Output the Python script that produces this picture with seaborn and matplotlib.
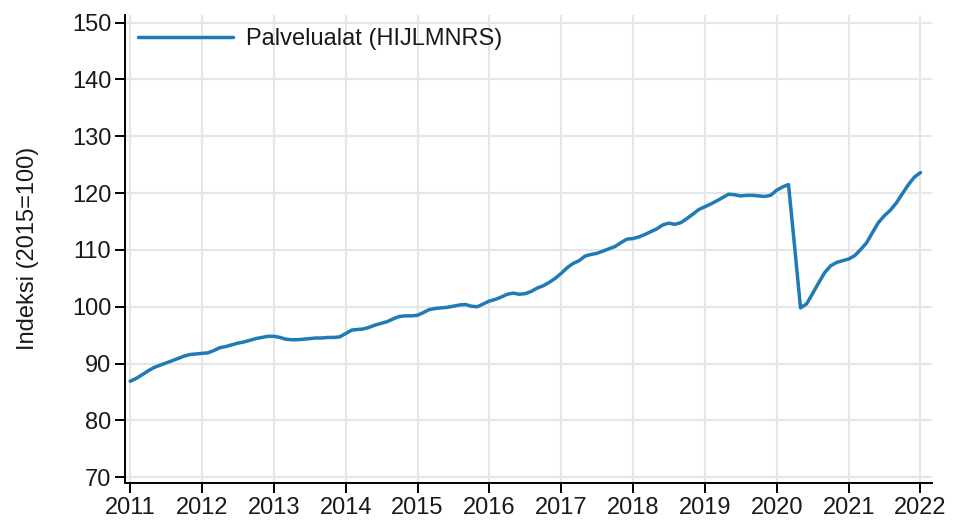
import pandas as pd
import matplotlib
matplotlib.use("Agg")
from matplotlib import pyplot as plt
import matplotlib.dates as mdates
import seaborn as sns

# monthly index values 2011-01 .. 2022-01
y2011 = [86.9, 87.4, 88.0, 88.7, 89.3, 89.7, 90.1, 90.5, 90.9, 91.3, 91.6, 91.7]
y2012 = [91.8, 91.9, 92.3, 92.8, 93.0, 93.3, 93.6, 93.8, 94.1, 94.4, 94.6, 94.8]
y2013 = [94.8, 94.6, 94.3, 94.2, 94.2, 94.3, 94.4, 94.5, 94.5, 94.6, 94.6, 94.7]
y2014 = [95.3, 95.9, 96.0, 96.1, 96.4, 96.8, 97.1, 97.4, 97.9, 98.3, 98.4, 98.4]
y2015 = [98.5, 99.0, 99.5, 99.7, 99.8, 99.9, 100.1, 100.3, 100.4, 100.1, 100.0, 100.5]
y2016 = [101.0, 101.3, 101.7, 102.2, 102.4, 102.2, 102.3, 102.7, 103.3, 103.7, 104.3, 105.0]
y2017 = [105.9, 106.9, 107.6, 108.1, 108.9, 109.2, 109.4, 109.8, 110.2, 110.6, 111.3, 111.9]
y2018 = [112.0, 112.3, 112.7, 113.2, 113.7, 114.4, 114.7, 114.5, 114.8, 115.5, 116.3, 117.1]
y2019 = [117.6, 118.1, 118.6, 119.2, 119.8, 119.7, 119.5, 119.6, 119.6, 119.5, 119.4, 119.6]
y2020 = [120.5, 121.1, 121.5, 110.6, 99.8, 100.5, 102.3, 104.2, 106.0, 107.2, 107.8, 108.1]
y2021 = [108.4, 109.0, 110.0, 111.2, 113.0, 114.8, 116.0, 117.0, 118.3, 119.9, 121.5, 122.8]
y2022 = [123.6]

values = (y2011 + y2012 + y2013 + y2014 + y2015 + y2016 + y2017 + y2018
          + y2019 + y2020 + y2021 + y2022)
months = pd.date_range("2011-01-01", periods=len(values), freq="MS")
series_name = "Palvelualat (HIJLMNRS)"
y_label = "Indeksi (2015=100)"

df = pd.DataFrame({"kk": months, "indeksi": values, "sarja": series_name})

sns.set_theme(style="whitegrid")
plt.rcParams["font.family"] = ["Liberation Sans", "DejaVu Sans"]

fs = 17
fig = plt.figure(figsize=(9.55, 5.31), dpi=100)
ax = fig.add_axes([0.131, 0.091, 0.845, 0.881])
sns.lineplot(data=df, x="kk", y="indeksi", hue="sarja", palette=["#1f7ab5"],
             linewidth=2.5, ax=ax)

ax.set_ylim(69.05, 151.35)
ax.set_yticks(range(70, 151, 10))
ax.set_xlim(pd.Timestamp("2010-12-06"), pd.Timestamp("2022-03-01"))
ax.xaxis.set_major_locator(mdates.YearLocator())
ax.xaxis.set_major_formatter(mdates.DateFormatter("%Y"))

ax.grid(True, color="#e6e6e6", linewidth=1.5)
for side in ["top", "right"]:
    ax.spines[side].set_visible(False)
for side in ["left", "bottom"]:
    ax.spines[side].set_color("black")
    ax.spines[side].set_linewidth(1.4)
ax.tick_params(axis="both", which="major", direction="out", length=7, width=1.4,
               color="black", labelsize=fs, labelcolor="#1a1a1a", pad=3,
               left=True, bottom=True)
ax.set_xlabel("")
ax.set_ylabel(y_label, fontsize=fs, color="#1a1a1a", labelpad=24)

leg = ax.legend(loc="upper left", frameon=False, fontsize=fs, handlelength=4.0,
                borderaxespad=0.15, handletextpad=0.55)
for t in leg.get_texts():
    t.set_color("#1a1a1a")

fig.savefig("out.png", dpi=100)
plt.close(fig)
